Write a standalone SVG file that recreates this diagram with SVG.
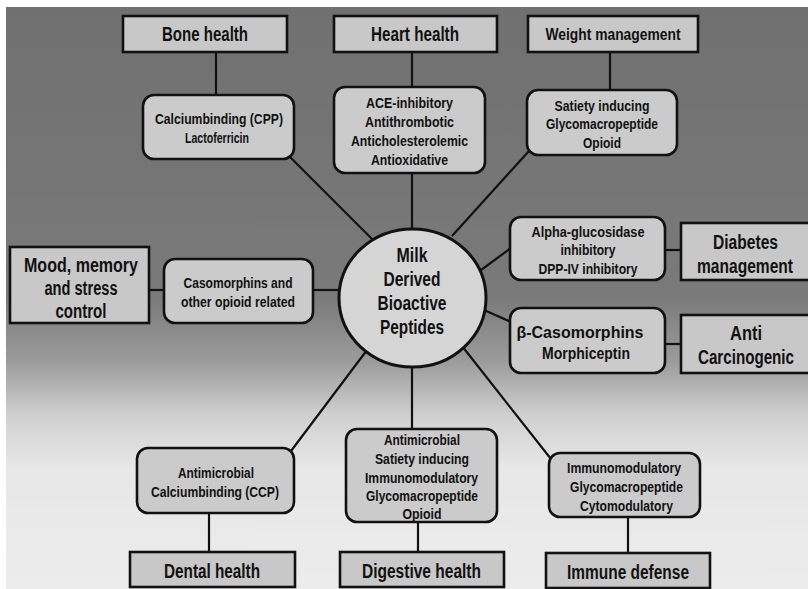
<svg xmlns="http://www.w3.org/2000/svg" width="808" height="589" viewBox="0 0 808 589">
  <defs>
    <linearGradient id="bg" gradientUnits="userSpaceOnUse" x1="0" y1="7" x2="0" y2="589">
      <stop offset="0" stop-color="#707070"/>
      <stop offset="0.50" stop-color="#7a7a7a"/>
      <stop offset="0.61" stop-color="#9c9c9c"/>
      <stop offset="0.70" stop-color="#cfcfcf"/>
      <stop offset="0.79" stop-color="#e7e7e7"/>
      <stop offset="1" stop-color="#ececec"/>
    </linearGradient>
    <style>
      .box { fill: #c8c8c8; stroke: #111; stroke-width: 2.6; }
      .rbox { fill: #cbcbcb; stroke: #111; stroke-width: 2.6; }
      .hub { fill: #d5d5d5; stroke: #111; stroke-width: 3; }
      .link { stroke: #111; stroke-width: 2.2; fill: none; }
      text { font-family: "Liberation Sans", Arial, sans-serif; font-weight: bold; fill: #111; text-anchor: middle; }
      .t { font-size: 15px; }
      .h { font-size: 20px; }
      .c { font-size: 20px; }
    </style>
  </defs>

  <rect x="0" y="0" width="808" height="589" fill="#ffffff"/>
  <rect x="6" y="7" width="802" height="582" fill="url(#bg)"/>

  <g id="connectors">
    <line class="link" x1="216" y1="52" x2="216" y2="95"/>
    <line class="link" x1="412" y1="52" x2="412" y2="87"/>
    <line class="link" x1="610" y1="52" x2="610" y2="90"/>
    <line class="link" x1="290" y1="157" x2="373" y2="240"/>
    <line class="link" x1="412" y1="173" x2="412" y2="229"/>
    <line class="link" x1="529" y1="151" x2="452" y2="236"/>
    <line class="link" x1="149" y1="290" x2="164" y2="290"/>
    <line class="link" x1="313" y1="290" x2="339" y2="290"/>
    <line class="link" x1="481" y1="270" x2="511" y2="248"/>
    <line class="link" x1="665" y1="250" x2="682" y2="250"/>
    <line class="link" x1="484" y1="310" x2="511" y2="322"/>
    <line class="link" x1="665" y1="344" x2="682" y2="344"/>
    <line class="link" x1="367" y1="350" x2="291" y2="451"/>
    <line class="link" x1="412" y1="367" x2="412" y2="429"/>
    <line class="link" x1="462" y1="346" x2="551" y2="459"/>
    <line class="link" x1="209" y1="513" x2="209" y2="553"/>
    <line class="link" x1="418" y1="522" x2="418" y2="553"/>
    <line class="link" x1="628" y1="517" x2="628" y2="554"/>
  </g>

  <g id="hub">
    <ellipse class="hub" cx="412.5" cy="298" rx="73.5" ry="69"/>
    <text class="c" x="412" y="262" textLength="31" lengthAdjust="spacingAndGlyphs">Milk</text>
    <text class="c" x="412" y="286" textLength="57" lengthAdjust="spacingAndGlyphs">Derived</text>
    <text class="c" x="412" y="310" textLength="69" lengthAdjust="spacingAndGlyphs">Bioactive</text>
    <text class="c" x="412" y="334" textLength="64" lengthAdjust="spacingAndGlyphs">Peptides</text>
  </g>

  <g id="bone-health">
    <rect class="box" x="123" y="16" width="164" height="36"/>
    <text class="h" x="205" y="41" textLength="86" lengthAdjust="spacingAndGlyphs">Bone health</text>
  </g>
  <g id="bone-peptides">
    <rect class="rbox" x="143" y="95" width="151" height="64" rx="11"/>
    <text class="t" x="219" y="124" textLength="128" lengthAdjust="spacingAndGlyphs">Calciumbinding (CPP)</text>
    <text class="t" x="217" y="143" textLength="64" lengthAdjust="spacingAndGlyphs">Lactoferricin</text>
  </g>

  <g id="heart-health">
    <rect class="box" x="334" y="16" width="163" height="36"/>
    <text class="h" x="415" y="41" textLength="88" lengthAdjust="spacingAndGlyphs">Heart health</text>
  </g>
  <g id="heart-peptides">
    <rect class="rbox" x="334" y="87" width="151" height="86" rx="11"/>
    <text class="t" x="409.5" y="108" textLength="87" lengthAdjust="spacingAndGlyphs">ACE-inhibitory</text>
    <text class="t" x="409.5" y="127" textLength="89" lengthAdjust="spacingAndGlyphs">Antithrombotic</text>
    <text class="t" x="409.5" y="146" textLength="117" lengthAdjust="spacingAndGlyphs">Anticholesterolemic</text>
    <text class="t" x="409.5" y="165" textLength="77" lengthAdjust="spacingAndGlyphs">Antioxidative</text>
  </g>

  <g id="weight-management">
    <rect class="box" x="528" y="16" width="170" height="36"/>
    <text x="613" y="40" style="font-size:16px" textLength="135" lengthAdjust="spacingAndGlyphs">Weight management</text>
  </g>
  <g id="weight-peptides">
    <rect class="rbox" x="527" y="90" width="150" height="65" rx="11"/>
    <text class="t" x="602" y="111" textLength="95" lengthAdjust="spacingAndGlyphs">Satiety inducing</text>
    <text class="t" x="602" y="129" textLength="112" lengthAdjust="spacingAndGlyphs">Glycomacropeptide</text>
    <text class="t" x="602" y="148" textLength="38" lengthAdjust="spacingAndGlyphs">Opioid</text>
  </g>

  <g id="mood">
    <rect class="box" x="10" y="247" width="139" height="76"/>
    <text class="h" x="81" y="272" textLength="114" lengthAdjust="spacingAndGlyphs">Mood, memory</text>
    <text class="h" x="81" y="295" textLength="73" lengthAdjust="spacingAndGlyphs">and stress</text>
    <text class="h" x="81" y="318" textLength="51" lengthAdjust="spacingAndGlyphs">control</text>
  </g>
  <g id="mood-peptides">
    <rect class="rbox" x="164" y="259" width="149" height="64" rx="11"/>
    <text class="t" x="238" y="288" textLength="109" lengthAdjust="spacingAndGlyphs">Casomorphins and</text>
    <text class="t" x="238" y="307" textLength="114" lengthAdjust="spacingAndGlyphs">other opioid related</text>
  </g>

  <g id="diabetes-peptides">
    <rect class="rbox" x="510" y="217" width="155" height="63" rx="11"/>
    <text class="t" x="588" y="237" textLength="113" lengthAdjust="spacingAndGlyphs">Alpha-glucosidase</text>
    <text class="t" x="588" y="255" textLength="55" lengthAdjust="spacingAndGlyphs">inhibitory</text>
    <text class="t" x="588" y="274" textLength="99" lengthAdjust="spacingAndGlyphs">DPP-IV inhibitory</text>
  </g>
  <g id="diabetes">
    <rect class="box" x="681" y="223" width="132" height="57"/>
    <text class="h" x="745.5" y="249" textLength="65" lengthAdjust="spacingAndGlyphs">Diabetes</text>
    <text class="h" x="745" y="273" textLength="96" lengthAdjust="spacingAndGlyphs">management</text>
  </g>

  <g id="cancer-peptides">
    <rect class="rbox" x="510" y="308" width="155" height="65" rx="11"/>
    <text x="580" y="338" style="font-size:17px" textLength="127" lengthAdjust="spacingAndGlyphs">β-Casomorphins</text>
    <text x="586" y="359" style="font-size:17px" textLength="88" lengthAdjust="spacingAndGlyphs">Morphiceptin</text>
  </g>
  <g id="anti-carcinogenic">
    <rect class="box" x="681" y="315" width="132" height="58"/>
    <text class="h" x="746" y="340" textLength="32" lengthAdjust="spacingAndGlyphs">Anti</text>
    <text class="h" x="746" y="364" textLength="96" lengthAdjust="spacingAndGlyphs">Carcinogenic</text>
  </g>

  <g id="dental-peptides">
    <rect class="rbox" x="137" y="448" width="157" height="65" rx="11"/>
    <text class="t" x="216" y="478" textLength="76" lengthAdjust="spacingAndGlyphs">Antimicrobial</text>
    <text class="t" x="215" y="497" textLength="128" lengthAdjust="spacingAndGlyphs">Calciumbinding (CCP)</text>
  </g>
  <g id="dental-health">
    <rect class="box" x="130" y="552" width="165" height="35"/>
    <text class="h" x="212" y="578" textLength="96" lengthAdjust="spacingAndGlyphs">Dental health</text>
  </g>

  <g id="digestive-peptides">
    <rect class="rbox" x="346" y="429" width="151" height="93" rx="11"/>
    <text class="t" x="422" y="445" textLength="76" lengthAdjust="spacingAndGlyphs">Antimicrobial</text>
    <text class="t" x="422" y="464" textLength="94" lengthAdjust="spacingAndGlyphs">Satiety inducing</text>
    <text class="t" x="421.5" y="483" textLength="113" lengthAdjust="spacingAndGlyphs">Immunomodulatory</text>
    <text class="t" x="422" y="501" textLength="112" lengthAdjust="spacingAndGlyphs">Glycomacropeptide</text>
    <text class="t" x="422" y="519" textLength="39" lengthAdjust="spacingAndGlyphs">Opioid</text>
  </g>
  <g id="digestive-health">
    <rect class="box" x="340" y="552" width="164" height="35"/>
    <text class="h" x="421.5" y="578" textLength="119" lengthAdjust="spacingAndGlyphs">Digestive health</text>
  </g>

  <g id="immune-peptides">
    <rect class="rbox" x="549" y="453" width="151" height="64" rx="11"/>
    <text class="t" x="624" y="473" textLength="114" lengthAdjust="spacingAndGlyphs">Immunomodulatory</text>
    <text class="t" x="626.5" y="492" textLength="113" lengthAdjust="spacingAndGlyphs">Glycomacropeptide</text>
    <text class="t" x="626.5" y="511" textLength="93" lengthAdjust="spacingAndGlyphs">Cytomodulatory</text>
  </g>
  <g id="immune-defense">
    <rect class="box" x="546" y="553" width="164" height="35"/>
    <text class="h" x="628" y="579" textLength="122" lengthAdjust="spacingAndGlyphs">Immune defense</text>
  </g>
</svg>
